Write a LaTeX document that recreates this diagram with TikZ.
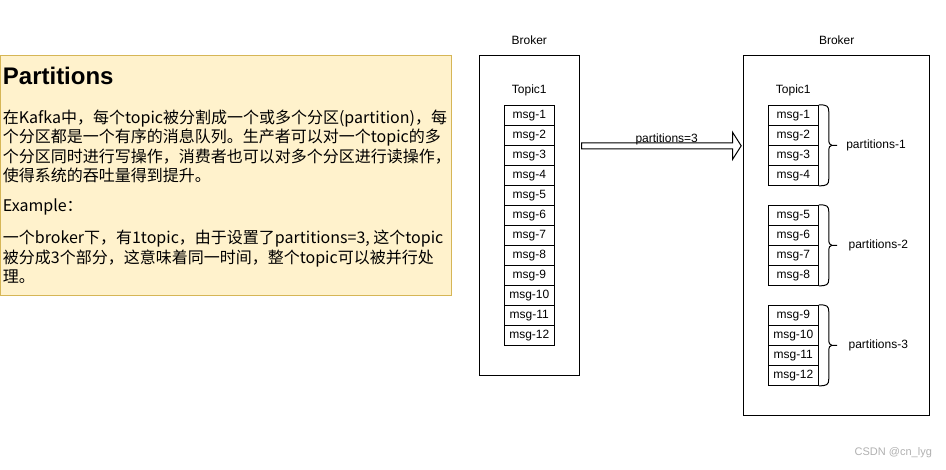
\documentclass[tikz,border=0pt]{standalone}
\usepackage{fontspec}
\setmainfont{Liberation Sans}
\newfontfamily\cjk{Noto Sans CJK SC}
\usetikzlibrary{calc}
\definecolor{notefill}{HTML}{FFF2CC}
\definecolor{notedraw}{HTML}{D6B656}
\definecolor{wmgray}{HTML}{B0B0B0}
\tikzset{
  cell/.style={draw=black,line width=1pt,minimum width=50pt,minimum height=20pt,inner sep=0pt,font=\fontsize{12}{14}\selectfont},
  brokerbox/.style={draw=black,line width=1pt,inner sep=0pt},
  lbl/.style={inner sep=0pt,font=\fontsize{12}{14}\selectfont},
  body/.style={anchor=base west,inner sep=0pt,font=\cjk\fontsize{16}{19.5}\selectfont},
  brace/.style={draw=black,line width=1pt},
  flexarrow/.style={draw=black,line width=1pt,fill=white,line join=miter}
}
\begin{document}
\begin{tikzpicture}[x=1pt,y=-1pt]
\useasboundingbox (0,0) rectangle (946,469);
% note box
\node[draw=notedraw,fill=notefill,line width=1pt,minimum width=451pt,minimum height=240pt,inner sep=0pt,anchor=north west] (note) at (0,55.3) {};
\node[anchor=base west,inner sep=0pt,font=\bfseries\fontsize{24}{28}\selectfont] (title) at (2.7,84.3) {Partitions};
\node[body] (t1) at (2.7,123.3) {在Kafka中，每个topic被分割成一个或多个分区(partition)，每};
\node[body] (t2) at (2.7,142.8) {个分区都是一个有序的消息队列。生产者可以对一个topic的多};
\node[body] (t3) at (2.7,162.3) {个分区同时进行写操作，消费者也可以对多个分区进行读操作，};
\node[body] (t4) at (2.7,181.8) {使得系统的吞吐量得到提升。};
\node[body] (t5) at (2.7,211.7) {Example：};
\node[body] (t6) at (2.7,243.3) {一个broker下，有1topic，由于设置了partitions=3, 这个topic};
\node[body] (t7) at (2.7,263.0) {被分成3个部分，这意味着同一时间，整个topic可以被并行处};
\node[body] (t8) at (2.7,282.7) {理。};
% left broker
\node[brokerbox,minimum width=100pt,minimum height=320pt] (lb) at (529.3,215.3) {};
\node[lbl] (lbt) at (529.3,40) {Broker};
\node[lbl] (ltp) at (529.3,90) {Topic1};
\foreach \i in {1,...,12} {
  \node[cell] (l\i) at (529.3,{95.3+20*\i}) {msg-\i};
}
% right broker
\node[brokerbox,minimum width=186pt,minimum height=360pt] (rb) at (836.3,235.3) {};
\node[lbl] (rbt) at (836.7,40) {Broker};
\node[lbl] (rtp) at (793.3,90) {Topic1};
\foreach \i in {1,...,4} {
  \node[cell] (r\i) at (793.3,{95.3+20*\i}) {msg-\i};
}
\foreach \i in {5,...,8} {
  \node[cell] (r\i) at (793.3,{115.3+20*\i}) {msg-\i};
}
\foreach \i in {9,...,12} {
  \node[cell] (r\i) at (793.3,{135.3+20*\i}) {msg-\i};
}
% braces and labels
\foreach \a/\b/\n in {1/4/1,5/8/2,9/12/3} {
  \coordinate (bt\n) at (r\a.north east);
  \coordinate (bb\n) at (r\b.south east);
  \coordinate (bm\n) at ($(bt\n)!0.5!(bb\n)$);
  \draw[brace] (bt\n) .. controls +(8,0) and +(0,-6) .. ($(bt\n)+(10,7)$)
     -- ($(bm\n)+(10,-6)$) .. controls +(0,4) and +(-2,0) .. ($(bm\n)+(13,0)$)
     -- ($(bm\n)+(18.4,0)$);
  \draw[brace] ($(bm\n)+(13,0)$) .. controls +(-2,0) and +(0,-4) .. ($(bm\n)+(10,6)$)
     -- ($(bb\n)+(10,-7)$) .. controls +(0,6) and +(8,0) .. (bb\n);
}
\node[lbl] (p1) at (876,145.3) {partitions-1};
\node[lbl] (p2) at (878.3,245.3) {partitions-2};
\node[lbl] (p3) at (878.3,345.3) {partitions-3};
% flex arrow
\coordinate (as) at ($(lb.east |- l2.south)+(1.7,0)$);
\coordinate (ae) at ($(rb.west |- l2.south)+(-1.6,0)$);
\draw[flexarrow] ($(as)+(0,-3)$) -- ($(ae)+(-8.7,-3)$) -- ($(ae)+(-8.7,-13.6)$) -- (ae)
  -- ($(ae)+(-8.7,13.7)$) -- ($(ae)+(-8.7,3)$) -- ($(as)+(0,3)$) -- cycle;
\node[lbl] (al) at (666.7,139.5) {partitions=3};
% watermark
\node[inner sep=0pt,text=wmgray,font=\fontsize{11}{13}\selectfont] (wm) at (893.3,453) {CSDN @cn\_lyg};
\end{tikzpicture}
\end{document}
